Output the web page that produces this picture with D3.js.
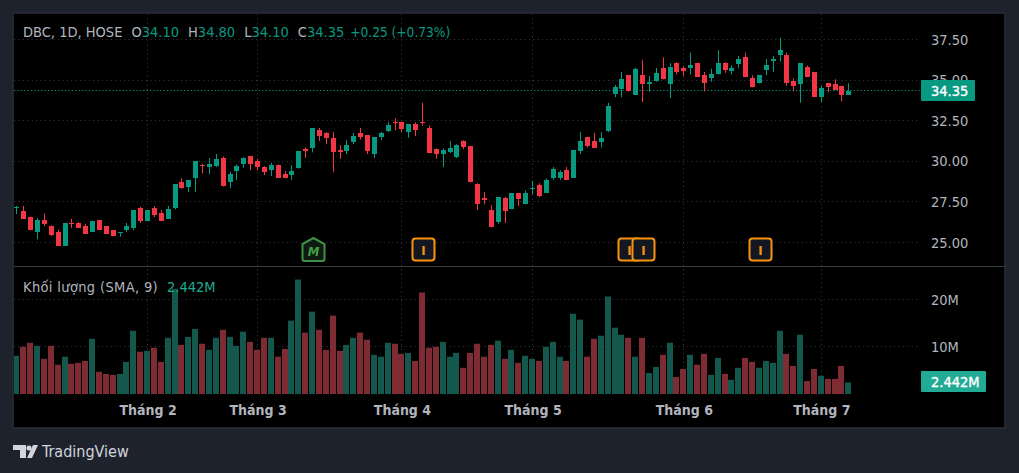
<!DOCTYPE html>
<html><head><meta charset="utf-8">
<script src="https://d3js.org/d3.v7.min.js"></script>
<style>html,body{margin:0;padding:0;background:#1e222d;overflow:hidden}svg{display:block}
text{font-family:"DejaVu Sans Condensed","DejaVu Sans",sans-serif}</style></head>
<body><div id="chart"></div>
<script>
const opens=[27.15,26.95,26.6,25.65,26.4,26.0,25.65,24.8,26.2,26.2,26.0,25.65,26.4,26.0,25.75,25.6,25.75,25.9,27.1,26.35,27.1,26.8,26.45,27.1,28.7,28.4,28.95,29.75,29.65,29.7,30.2,28.7,29.4,29.85,30.3,30.0,29.65,29.45,29.75,29.2,29.15,29.6,30.75,30.8,31.9,31.75,31.45,30.7,30.65,31.2,31.75,31.6,30.45,31.5,31.85,32.45,32.4,31.8,32.3,32.45,32.05,30.75,30.45,30.6,30.25,31.25,30.95,28.6,27.75,27.0,26.25,27.75,27.05,28.05,27.35,28.3,28.55,28.05,28.95,29.0,29.45,29.0,30.65,31.5,31.25,31.2,31.85,34.15,34.45,35.3,34.1,35.3,34.75,34.95,35.75,34.75,36.05,35.75,35.75,36.05,35.3,35.1,35.35,36.05,35.55,36.0,36.4,35.1,34.8,35.6,36.15,36.55,36.55,34.95,34.75,35.8,35.5,33.95,34.8,34.75,34.65,34.1];
const highs=[27.25,27.25,26.6,26.5,26.8,26.05,25.8,26.2,26.45,26.25,26.15,26.3,26.4,26.0,25.75,25.65,26.2,27.0,27.2,27.0,27.25,27.0,27.25,28.6,28.95,28.85,30.0,29.85,30.2,30.45,30.3,29.35,29.8,30.25,30.3,30.15,29.7,29.9,29.8,29.4,29.75,30.65,30.85,32.05,32.05,31.8,31.8,31.0,31.3,31.75,32.05,31.6,31.5,31.8,32.4,32.65,32.45,32.3,32.4,33.6,32.2,30.8,30.8,31.25,31.05,31.3,30.95,28.65,28.1,27.3,27.8,27.8,28.05,28.05,28.2,28.8,28.65,28.95,29.65,29.45,29.65,30.7,31.8,31.5,31.75,31.8,33.6,34.7,35.5,35.3,35.75,36.25,35.25,35.75,36.4,36.05,36.1,35.85,36.7,36.05,35.5,35.7,36.85,36.1,35.9,36.5,36.7,35.3,35.3,36.3,36.5,37.6,36.7,35.1,36.05,35.9,35.5,34.65,34.8,35.05,34.65,34.8];
const lows=[26.75,26.45,25.75,25.2,26.0,25.4,24.8,24.8,25.9,25.9,25.55,25.65,25.8,25.55,25.4,25.35,25.65,25.75,26.2,26.35,26.55,26.35,26.45,27.05,28.3,28.1,28.1,29.25,29.2,29.65,28.45,28.35,28.85,29.6,29.45,29.45,29.15,29.1,29.0,28.95,28.85,29.55,30.2,30.55,31.25,31.05,29.33,30.15,30.45,31.05,31.35,30.45,30.2,31.3,31.8,31.9,31.8,31.45,31.55,32.2,30.5,30.15,29.65,30.5,30.2,30.75,28.7,27.0,27.35,25.95,26.15,26.2,27.05,27.25,27.35,27.95,27.8,28.05,28.85,28.85,28.85,29.0,30.45,30.85,30.8,30.85,31.8,33.95,33.95,34.3,34.1,33.65,34.3,34.9,35.05,33.9,35.35,35.25,35.35,35.2,34.3,34.9,35.35,35.45,35.35,35.75,35.2,34.55,34.8,35.3,35.5,36.15,34.65,34.3,33.6,35.2,33.95,33.65,34.25,34.4,33.7,34.1];
const closes=[27.2,26.45,25.75,26.4,26.15,25.45,24.8,26.2,26.15,25.9,25.55,26.3,25.8,25.55,25.4,25.65,26.0,27.0,26.3,27.0,26.7,26.35,27.05,28.6,28.35,28.85,30.0,29.7,29.85,30.15,28.45,29.2,29.7,30.2,29.85,29.65,29.35,29.75,29.0,29.0,29.4,30.65,30.65,32.05,31.55,31.45,30.55,30.55,31.0,31.55,31.5,30.65,31.5,31.75,32.25,32.35,32.0,32.3,31.9,32.35,30.5,30.45,30.7,30.8,31.0,30.85,28.7,27.35,27.6,25.95,27.8,26.95,28.05,27.65,28.05,28.35,27.85,28.85,29.5,29.35,28.85,30.7,31.25,30.95,30.8,31.45,33.4,34.55,35.05,34.3,35.7,34.75,34.9,35.45,35.05,35.8,35.5,35.55,35.9,35.2,34.8,35.35,36.05,35.6,35.75,36.3,35.2,34.55,35.3,35.9,36.3,36.85,34.8,34.65,36.05,35.2,33.95,34.5,34.55,34.4,34.1,34.35];
const volumes=[8.1,10.0,10.85,10.2,7.45,10.2,6.2,7.9,6.4,6.6,7.0,11.7,4.7,4.25,4.05,4.25,6.8,13.4,8.95,9.15,9.8,6.8,11.9,22.3,10.4,12.1,13.8,10.65,9.35,11.9,13.6,12.1,10.2,13.2,11.05,9.35,11.9,11.9,7.9,9.55,15.55,24.25,13.0,17.45,13.6,9.35,16.6,9.15,10.4,11.9,13.0,11.5,8.3,7.9,10.85,10.65,8.5,8.7,7.0,21.5,9.8,10.0,11.05,7.9,8.7,5.55,8.7,10.65,7.9,10.4,11.3,7.45,9.35,6.6,8.1,7.45,7.0,10.0,11.05,7.9,7.0,17.0,15.75,7.9,11.7,12.35,20.65,14.05,12.55,11.9,7.9,11.9,4.45,5.75,8.3,10.85,3.6,5.3,8.3,6.2,8.5,4.05,7.65,4.25,3.0,5.55,7.65,6.8,5.55,7.0,6.6,13.4,8.5,5.95,12.55,2.75,5.3,3.85,3.2,3.2,5.95,2.442];
const priceTicks=[25,27.5,30,32.5,35,37.5];
const volumeTicks=[10,20];
const monthIndex=[19,35,56,75,97,117];
const monthLabels=["Tháng 2","Tháng 3","Tháng 4","Tháng 5","Tháng 6","Tháng 7"];
const markerIndex=[43,59,89,91,108];
const markerKinds=["M","I","I","I","I"];

const W=1019,H=473,UP="#089981",DOWN="#f23645",VUP="#14584d",VDOWN="#7f2b33",GRID="#2f323b",TXT="#b2b5be";
const svg=d3.select("#chart").append("svg").attr("width",W).attr("height",H);
svg.append("rect").attr("width",W).attr("height",H).attr("fill","#1e222d");
svg.append("rect").attr("x",13).attr("y",13).attr("width",992).attr("height",415).attr("fill","#000").attr("stroke","#2a2e39").attr("stroke-width",1.5);
const defs=svg.append("defs");
defs.append("clipPath").attr("id","pane").append("rect").attr("x",14).attr("y",14).attr("width",906).attr("height",380);

const x=d3.scaleLinear().domain([0,121]).range([16.95,848.8]);
const px=i=>Math.floor(x(i))+.5;
const y=d3.scaleLinear().domain([25,37.5]).range([242.5,39.5]);
const yv=d3.scaleLinear().domain([0,20]).range([394,299.6]);
const cy=v=>Math.floor(y(v))+.5, cyv=v=>Math.floor(yv(v))+.5;

const g=svg.append("g");
const dash="1.2,3.2";
g.selectAll(".hp").data(priceTicks).join("line").attr("x1",14).attr("x2",920).attr("y1",cy).attr("y2",cy).attr("stroke",GRID).attr("stroke-dasharray",dash);
g.selectAll(".hv").data(volumeTicks).join("line").attr("x1",14).attr("x2",920).attr("y1",cyv).attr("y2",cyv).attr("stroke",GRID).attr("stroke-dasharray",dash);
g.selectAll(".vg").data(monthIndex).join("line").attr("x1",px).attr("x2",px).attr("y1",14).attr("y2",394).attr("stroke",GRID).attr("stroke-dasharray",dash);
svg.append("line").attr("x1",14).attr("x2",1005).attr("y1",266.5).attr("y2",266.5).attr("stroke","#363a45");

const idx=d3.range(opens.length), up=i=>closes[i]>=opens[i];
const marks=svg.append("g").attr("clip-path","url(#pane)");
marks.selectAll(".vol").data(idx).join("rect").attr("x",i=>px(i)-3.5).attr("width",6)
 .attr("y",i=>yv(volumes[i])).attr("height",i=>yv(0)-yv(volumes[i])).attr("fill",i=>up(i)?VUP:VDOWN);
marks.append("line").attr("x1",14).attr("x2",920).attr("y1",cy(closes[121])).attr("y2",cy(closes[121])).attr("stroke",UP).attr("stroke-dasharray","1.2,2.2");
marks.selectAll(".wick").data(idx).join("line").attr("x1",px).attr("x2",px).attr("y1",i=>y(highs[i])).attr("y2",i=>y(lows[i])).attr("stroke",i=>up(i)?UP:DOWN);
marks.selectAll(".body").data(idx).join("rect").attr("x",i=>px(i)-2.5).attr("width",5)
 .attr("y",i=>Math.round(y(Math.max(opens[i],closes[i]))))
 .attr("height",i=>Math.max(1,Math.round(y(Math.min(opens[i],closes[i])))-Math.round(y(Math.max(opens[i],closes[i])))))
 .attr("fill",i=>up(i)?UP:DOWN);

function styleAxis(sel,size,weight){sel.select(".domain").remove();sel.selectAll(".tick line").remove();
 sel.selectAll("text").attr("fill",TXT).attr("font-size",size).attr("font-weight",weight||400);}
svg.append("g").attr("transform","translate(931,0)").call(d3.axisRight(y).tickValues(priceTicks).tickFormat(d3.format(".2f")).tickSize(0).tickPadding(0)).call(styleAxis,"14.5px");
svg.append("g").attr("transform","translate(931,0)").call(d3.axisRight(yv).tickValues(volumeTicks).tickFormat(d=>d+"M").tickSize(0).tickPadding(0)).call(styleAxis,"14.5px");
svg.append("g").attr("transform","translate(0,394)").call(d3.axisBottom(x).tickValues(monthIndex).tickFormat((d,i)=>monthLabels[i]).tickSize(0).tickPadding(11)).call(styleAxis,"14px",700);

function badge(bx,by,bw,bh,col,t){svg.append("rect").attr("x",bx).attr("y",by).attr("width",bw).attr("height",bh).attr("rx",1).attr("fill",col);
 svg.append("text").attr("x",931).attr("y",by+bh/2+5).attr("fill","#fff").attr("stroke","#fff").attr("stroke-width",.35).attr("font-size","14.5px").text(t);}
badge(921,80,54,21,UP,d3.format(".2f")(closes[121]));
badge(921,371,65,21,"#22ab94","2.442M");

const mk=svg.append("g").selectAll("g").data(markerIndex).join("g").attr("transform",d=>`translate(${px(d)+1},250)`);
mk.each(function(d,i){const s=d3.select(this);
 if(markerKinds[i]==="M"){
  s.append("path").attr("d","M-11,-6 L0,-12 L11,-6 V9 Q11,11 9,11 H-9 Q-11,11 -11,9 Z").attr("fill","#0e1a12").attr("stroke","#3f9142").attr("stroke-width",2);
  s.append("text").attr("y",5.5).attr("text-anchor","middle").attr("fill","#43a047").attr("font-size","13px").attr("font-weight",700).attr("font-style","italic").text("M");
 } else {
  s.append("rect").attr("x",-11).attr("y",-11.5).attr("width",22).attr("height",22).attr("rx",3).attr("fill","#131722").attr("stroke","#f7930f").attr("stroke-width",2);
  s.append("text").attr("y",4.5).attr("text-anchor","middle").attr("fill","#f7930f").attr("font-size","13px").attr("font-weight",700).text("I");
 }});

const leg=svg.append("text").attr("x",23).attr("y",37).attr("font-size","14.5px").attr("fill",TXT);
const fm=d3.format(".2f"),L=121;
leg.append("tspan").text("DBC, 1D, HOSE");
[["O",opens[L]],["H",highs[L]],["L",lows[L]],["C",closes[L]]].forEach((p,i)=>{
 leg.append("tspan").attr("dx",9).text(p[0]);
 leg.append("tspan").attr("fill",UP).text(fm(p[1]));});
leg.append("tspan").attr("dx",6).attr("fill",UP).attr("font-size","13.6px").text("+0.25 (+0.73%)");
const leg2=svg.append("text").attr("x",23).attr("y",292).attr("font-size","14.5px").attr("fill",TXT);
leg2.append("tspan").attr("letter-spacing",".35").text("Khối lượng (SMA, 9)");
leg2.append("tspan").attr("dx",9).attr("fill","#22ab94").text("2.442M");

const logo=svg.append("g").attr("fill","#d1d4dc");
logo.append("path").attr("d","M13,445 H26 V458 H20 V450 H13 Z M27,458 L33,445 H38 L32,458 Z");
logo.append("circle").attr("cx",29).attr("cy",448).attr("r",2.6);
svg.append("text").attr("x",42).attr("y",457).attr("fill","#d1d4dc").attr("font-size","16px").text("TradingView");
</script></body></html>
